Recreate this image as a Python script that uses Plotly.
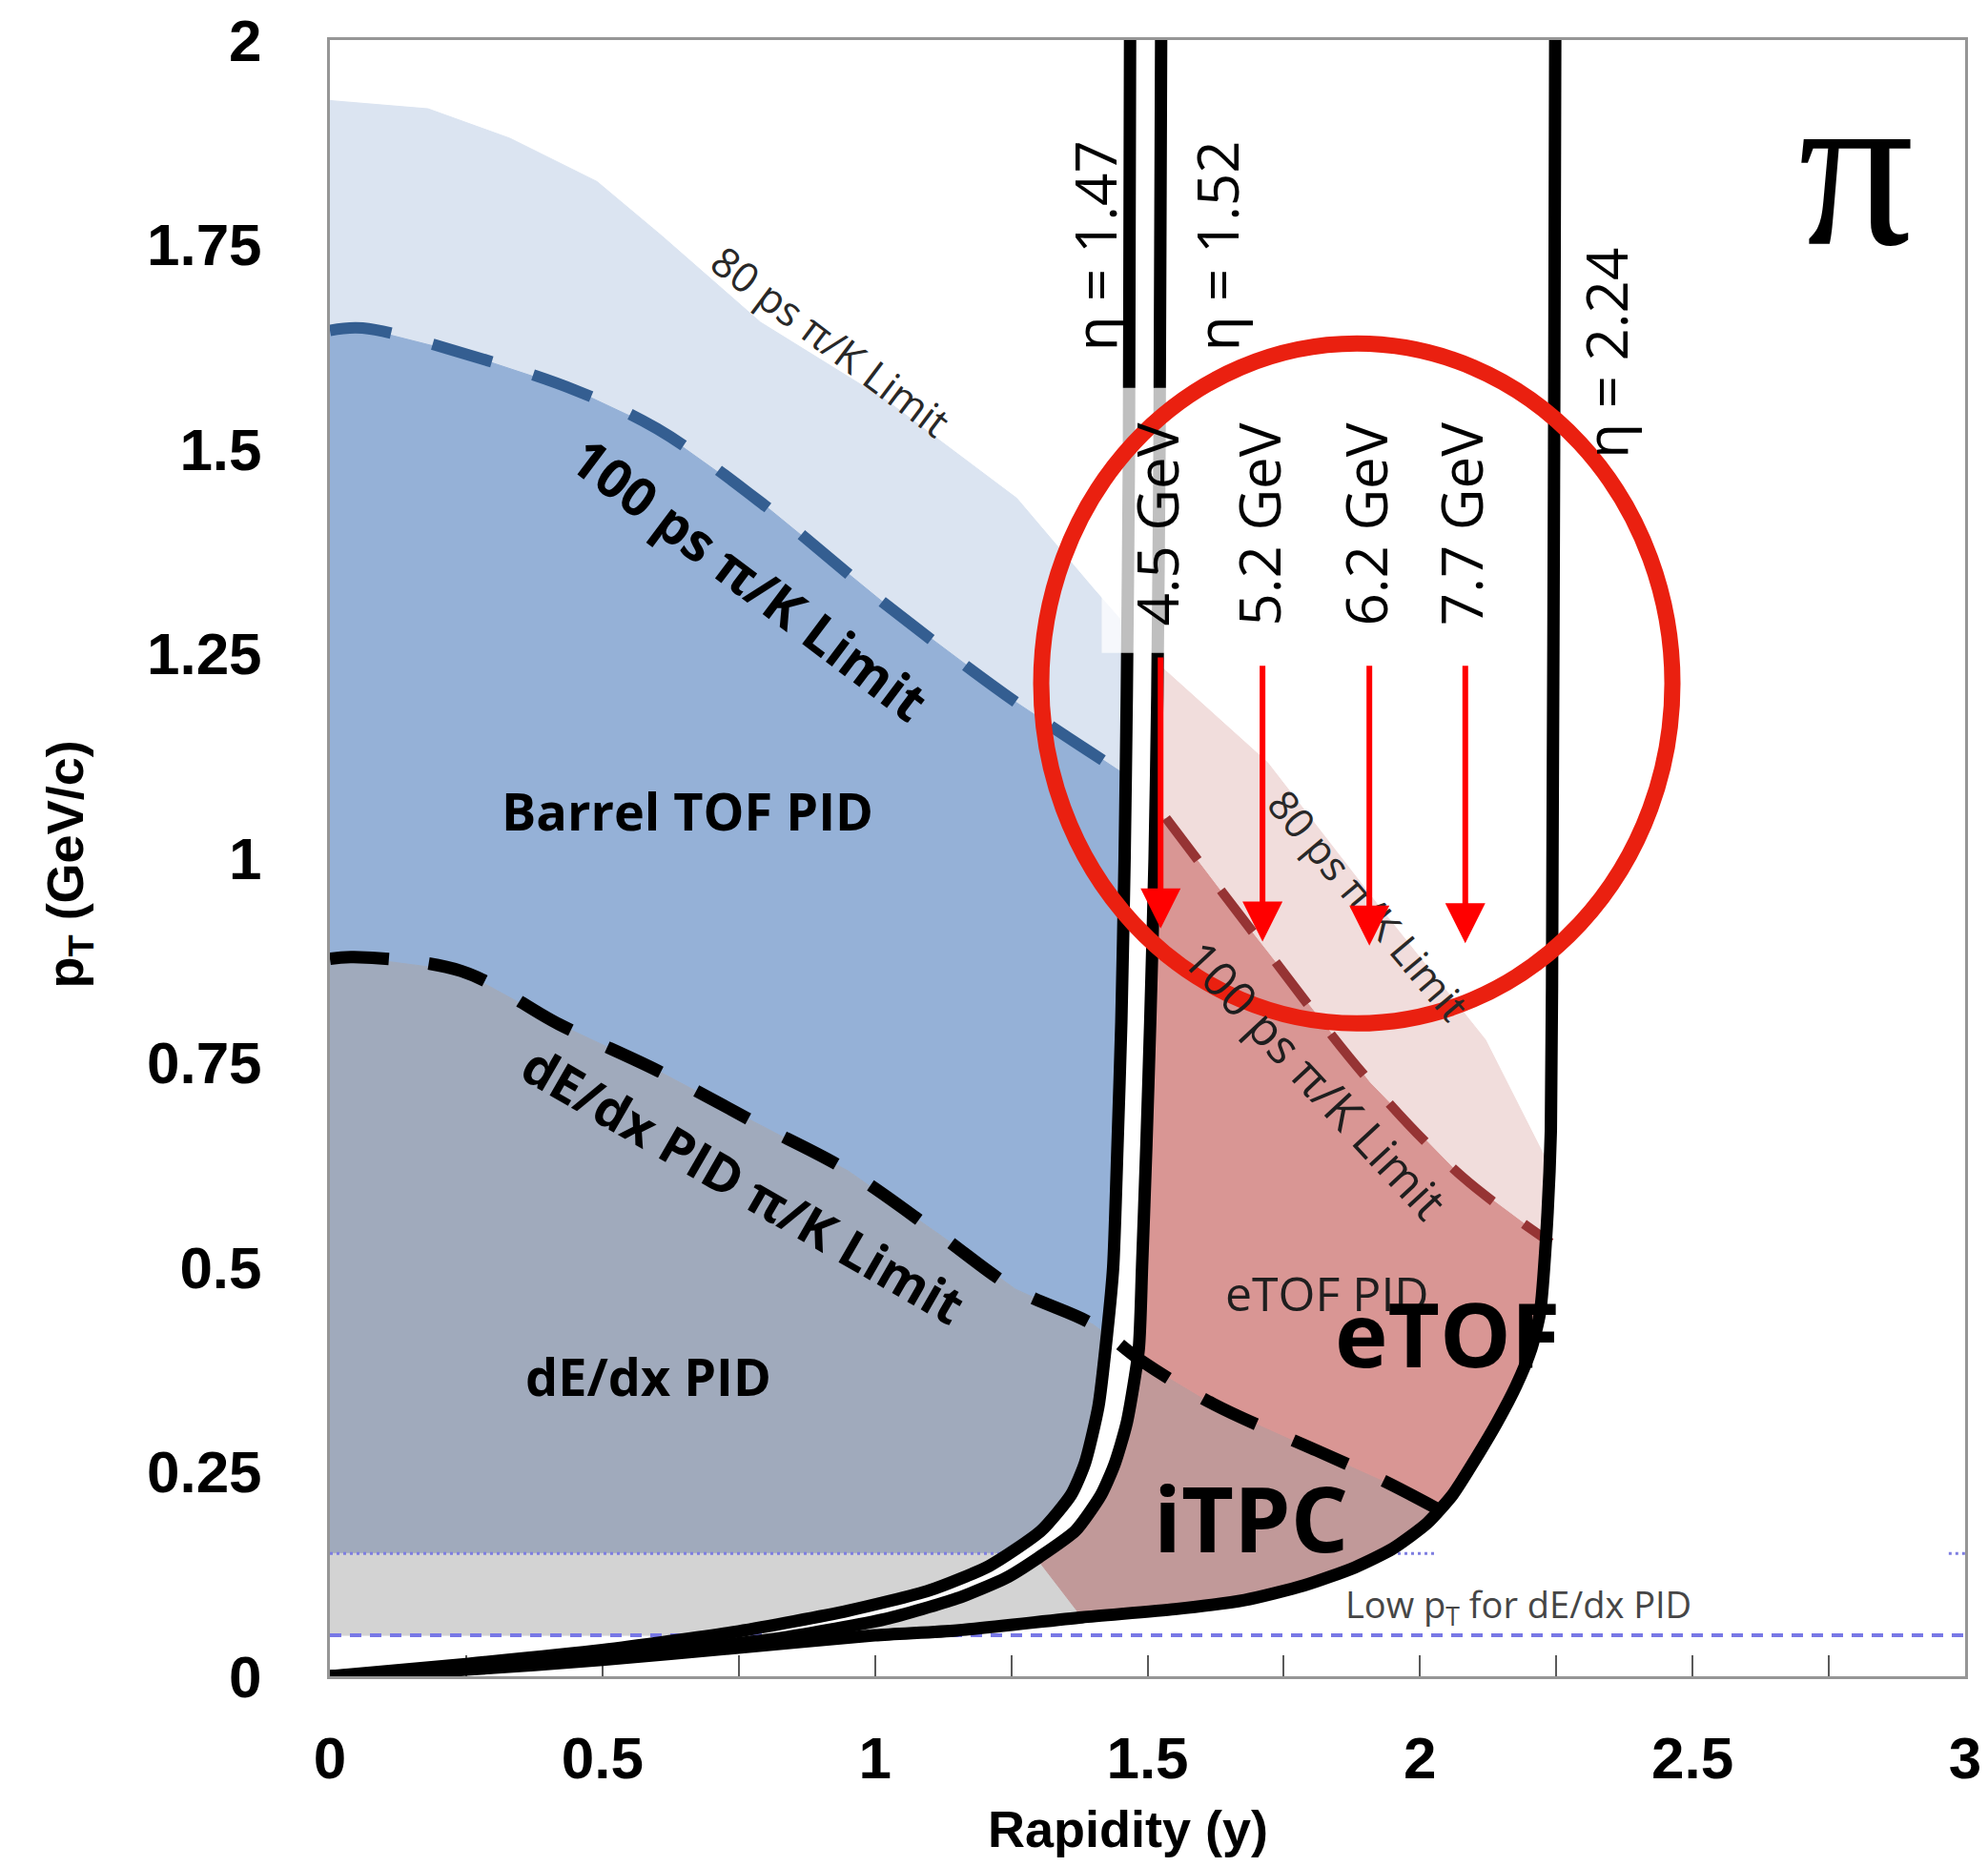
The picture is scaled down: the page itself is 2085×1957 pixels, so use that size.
import numpy as np
import plotly.graph_objects as go

# ---------------- data (x = rapidity y, y = pT in GeV/c) ----------------
# 80 ps pi/K limit (upper edge of light blue / light red areas)
tof80_y = [0.00, 0.18, 0.33, 0.49, 0.61, 0.79, 1.02, 1.26, 1.40, 1.53, 1.72, 1.92, 2.12, 2.24]
tof80_pt = [1.926, 1.916, 1.88, 1.827, 1.76, 1.655, 1.56, 1.44, 1.33, 1.231, 1.117, 0.945, 0.778, 0.62]

# 100 ps pi/K limit, barrel TOF part (blue dashed)
tof100b_y = [0.00, 0.06, 0.25, 0.45, 0.60, 0.80, 1.02, 1.26, 1.45]
tof100b_pt = [1.645, 1.648, 1.616, 1.572, 1.525, 1.43, 1.31, 1.19, 1.106]

# 100 ps pi/K limit, eTOF part (red dashed)
tof100e_y = [1.534, 1.695, 1.909, 2.077, 2.24]
tof100e_pt = [1.049, 0.908, 0.726, 0.611, 0.53]

# dE/dx PID pi/K limit (black dashed)
dedx_y = [0.00, 0.044, 0.241, 0.42, 0.602, 0.777, 0.95, 1.116, 1.258, 1.40, 1.49, 1.62, 1.81, 1.93, 2.045]
dedx_pt = [0.877, 0.879, 0.862, 0.797, 0.74, 0.678, 0.618, 0.541, 0.473, 0.43, 0.385, 0.333, 0.276, 0.24, 0.20]

# pseudorapidity acceptance edges
eta147_y = [1.468, 1.466, 1.462, 1.458, 1.452, 1.445, 1.437, 1.426, 1.41, 1.385, 1.36, 1.305, 1.21, 1.10, 0.95, 0.75, 0.5, 0.25, 0.0]
eta147_pt = [2.0, 1.5, 1.2, 1.0, 0.8, 0.65, 0.5, 0.42, 0.33, 0.26, 0.222, 0.178, 0.135, 0.105, 0.08, 0.055, 0.032, 0.015, 0.0]

eta152_y = [1.525, 1.522, 1.518, 1.513, 1.505, 1.498, 1.49, 1.484, 1.462, 1.44, 1.415, 1.368, 1.30, 1.24, 1.15, 1.02, 0.83, 0.58, 0.3, 0.0]
eta152_pt = [2.0, 1.5, 1.2, 1.0, 0.8, 0.65, 0.5, 0.4, 0.31, 0.26, 0.222, 0.178, 0.145, 0.12, 0.095, 0.07, 0.047, 0.028, 0.011, 0.0]

eta224_y = [2.248, 2.246, 2.243, 2.24, 2.231, 2.22, 2.204, 2.177, 2.142, 2.103, 2.06, 2.013, 1.95, 1.88, 1.787,
            1.678, 1.55, 1.38, 1.15, 1.0, 0.75, 0.5, 0.25, 0.0]
eta224_pt = [2.0, 1.5, 1.0, 0.667, 0.533, 0.444, 0.4, 0.356, 0.311, 0.267, 0.222, 0.187, 0.156, 0.133, 0.111,
             0.093, 0.082, 0.072, 0.056, 0.05, 0.035, 0.02, 0.008, 0.0]

# low-pT dE/dx PID bounds
lowpt_upper = 0.15
lowpt_lower = 0.05
itpc_edge_y = [1.29, 1.38]   # edge between grey low-pT area and iTPC area

# beam-energy arrows
arrow_labels = ["4.5 GeV", "5.2 GeV", "6.2 GeV", "7.7 GeV"]
arrow_y = [1.524, 1.711, 1.907, 2.083]
arrow_top = [1.247, 1.237, 1.237, 1.237]
arrow_tip = [0.914, 0.898, 0.893, 0.896]

eta_labels = ["η = 1.47", "η = 1.52", "η = 2.24"]

x_tickvals = [0, 0.5, 1, 1.5, 2, 2.5, 3]
x_ticktext = ["0", "0.5", "1", "1.5", "2", "2.5", "3"]
y_tickvals = [0, 0.25, 0.5, 0.75, 1, 1.25, 1.5, 1.75, 2]
y_ticktext = ["0", "0.25", "0.5", "0.75", "1", "1.25", "1.5", "1.75", "2"]

# ---------------- helpers ----------------
def A(v):
    return np.asarray(v, dtype=float)

def eta_x(ex, ep, pt):
    return float(np.interp(pt, A(ep)[::-1], A(ex)[::-1]))

def eta_pt_at_x(ex, ep, x):
    return float(np.interp(x, A(ex)[::-1], A(ep)[::-1]))

def cseg(cx, cp, x0, x1):
    cx, cp = A(cx), A(cp)
    m = (cx > x0) & (cx < x1)
    xs = [x0] + list(cx[m]) + [x1]
    ps = [float(np.interp(x0, cx, cp))] + list(cp[m]) + [float(np.interp(x1, cx, cp))]
    return xs, ps

def eseg(ex, ep, p_hi, p_lo):
    ex, ep = A(ex), A(ep)
    m = (ep < p_hi) & (ep > p_lo)
    xs = [eta_x(ex, ep, p_hi)] + list(ex[m]) + [eta_x(ex, ep, p_lo)]
    ps = [p_hi] + list(ep[m]) + [p_lo]
    return xs, ps

def rev(seg):
    return seg[0][::-1], seg[1][::-1]

def cross(cx, cp, ex, ep):
    pts = np.linspace(0.005, 1.99, 6000)
    xs = np.interp(pts, A(ep)[::-1], A(ex)[::-1])
    d = np.interp(xs, A(cx), A(cp)) - pts
    i = np.nonzero(np.diff(np.sign(d)))[0][0]
    return float(pts[i])

def join(*segs):
    xs, ps = [], []
    for s in segs:
        xs += list(s[0]); ps += list(s[1])
    return xs, ps

# crossing points
p_a = cross(tof80_y, tof80_pt, eta147_y, eta147_pt)
p_b = cross(tof100b_y, tof100b_pt, eta147_y, eta147_pt)
p_d = cross(dedx_y, dedx_pt, eta147_y, eta147_pt)
p_e = cross(dedx_y, dedx_pt, eta152_y, eta152_pt)
p_f = cross(dedx_y, dedx_pt, eta224_y, eta224_pt)
p_r = cross(tof100e_y, tof100e_pt, eta152_y, eta152_pt)
p_g = cross(tof100e_y, tof100e_pt, eta224_y, eta224_pt)
p_h = cross(tof80_y, tof80_pt, eta152_y, eta152_pt)
p_i = cross(tof80_y, tof80_pt, eta224_y, eta224_pt)
x_a = eta_x(eta147_y, eta147_pt, p_a)
x_b = eta_x(eta147_y, eta147_pt, p_b)
x_d = eta_x(eta147_y, eta147_pt, p_d)
x_e = eta_x(eta152_y, eta152_pt, p_e)
x_f = eta_x(eta224_y, eta224_pt, p_f)
x_r = eta_x(eta152_y, eta152_pt, p_r)
x_g = eta_x(eta224_y, eta224_pt, p_g)
x_h = eta_x(eta152_y, eta152_pt, p_h)
x_i = eta_x(eta224_y, eta224_pt, p_i)
p_edge = eta_pt_at_x(eta224_y, eta224_pt, itpc_edge_y[1])

regions = []
# light blue (80 ps, barrel)
regions.append(("rgb(219,228,241)", join(cseg(tof80_y, tof80_pt, 0, x_a),
                                          eseg(eta147_y, eta147_pt, p_a, p_b),
                                          rev(cseg(tof100b_y, tof100b_pt, 0, x_b)))))
# barrel TOF PID
regions.append(("rgb(149,177,215)", join(cseg(tof100b_y, tof100b_pt, 0, x_b),
                                          eseg(eta147_y, eta147_pt, p_b, p_d),
                                          rev(cseg(dedx_y, dedx_pt, 0, x_d)))))
# dE/dx PID
regions.append(("rgb(160,170,188)", join(cseg(dedx_y, dedx_pt, 0, x_d),
                                          eseg(eta147_y, eta147_pt, p_d, lowpt_upper),
                                          ([0], [lowpt_upper]))))
# grey low-pT
regions.append(("rgb(211,211,211)", join(([0, itpc_edge_y[0], itpc_edge_y[1]], [lowpt_upper, lowpt_upper, p_edge]),
                                          eseg(eta224_y, eta224_pt, p_edge, lowpt_lower),
                                          ([0], [lowpt_lower]))))
regions2 = []
# iTPC
regions2.append(("rgb(193,153,153)", join(eseg(eta152_y, eta152_pt, p_e, lowpt_upper),
                                           ([itpc_edge_y[0], itpc_edge_y[1]], [lowpt_upper, p_edge]),
                                           rev(eseg(eta224_y, eta224_pt, p_f, p_edge)),
                                           rev(cseg(dedx_y, dedx_pt, x_e, x_f)))))
# eTOF PID
regions2.append(("rgb(217,150,148)", join(eseg(eta152_y, eta152_pt, p_r, p_e),
                                           cseg(dedx_y, dedx_pt, x_e, x_f),
                                           rev(eseg(eta224_y, eta224_pt, p_g, p_f)),
                                           rev(cseg(tof100e_y, tof100e_pt, x_r, x_g)))))
# light red (80 ps, eTOF)
regions2.append(("rgb(241,221,220)", join(eseg(eta152_y, eta152_pt, p_h, p_r),
                                           cseg(tof100e_y, tof100e_pt, x_r, x_g),
                                           rev(eseg(eta224_y, eta224_pt, p_i, p_g)),
                                           rev(cseg(tof80_y, tof80_pt, x_h, x_i)))))

fig = go.Figure()

def add_region(col, xy):
    fig.add_trace(go.Scatter(x=xy[0], y=xy[1], mode="lines", fill="toself", fillcolor=col,
                             line=dict(width=1, color=col), hoverinfo="skip", showlegend=False))

for col, xy in regions:
    add_region(col, xy)

# dotted upper low-pT line
fig.add_trace(go.Scatter(x=[0, 2.03, None, 2.97, 3.0], y=[lowpt_upper] * 2 + [None] + [lowpt_upper] * 2,
                         mode="lines", line=dict(color="rgb(125,125,225)", width=3, dash="3px,4px"),
                         hoverinfo="skip", showlegend=False))

for col, xy in regions2:
    add_region(col, xy)

# white gap between eta=1.47 and eta=1.52 edges
add_region("white", (list(eta147_y) + list(eta152_y)[::-1], list(eta147_pt) + list(eta152_pt)[::-1]))

# dashed lower low-pT line
fig.add_trace(go.Scatter(x=[0, 3], y=[lowpt_lower] * 2, mode="lines",
                         line=dict(color="rgb(120,120,230)", width=4, dash="12px,9px"),
                         hoverinfo="skip", showlegend=False))

# limit curves
fig.add_trace(go.Scatter(x=tof100b_y, y=tof100b_pt, mode="lines",
                         line=dict(color="rgb(52,94,145)", width=12, dash="65px,45px", shape="spline"),
                         hoverinfo="skip", showlegend=False))
fig.add_trace(go.Scatter(x=tof100e_y, y=tof100e_pt, mode="lines",
                         line=dict(color="rgb(150,52,52)", width=10, dash="55px,40px", shape="spline"),
                         hoverinfo="skip", showlegend=False))
fig.add_trace(go.Scatter(x=dedx_y, y=dedx_pt, mode="lines",
                         line=dict(color="black", width=13, dash="62px,42px", shape="spline"),
                         hoverinfo="skip", showlegend=False))

for ex, ep in [(eta147_y, eta147_pt), (eta152_y, eta152_pt), (eta224_y, eta224_pt)]:
    fig.add_trace(go.Scatter(x=ex, y=ep, mode="lines",
                             line=dict(color="black", width=13, shape="spline", smoothing=0.6),
                             hoverinfo="skip", showlegend=False))

# ---------------- annotations ----------------
FONT = "Open Sans"
ann = []

def txt(x, y, s, size, bold=False, angle=0, color="black", family=FONT):
    ann.append(dict(x=x, y=y, xref="x", yref="y", text=s, showarrow=False, textangle=angle,
                    font=dict(family=family, size=size, color=color, weight="bold" if bold else "normal"),
                    xanchor="center", yanchor="middle"))

txt(0.656, 1.058, "Barrel TOF PID", 54, bold=True)
txt(0.585, 0.367, "dE/dx PID", 54, bold=True)
txt(0.759, 0.601, "dE/dx PID π/K Limit", 54, bold=True, angle=30)
txt(0.772, 1.342, "100 ps π/K Limit", 56, bold=True, angle=37)
txt(0.919, 1.632, "80 ps π/K Limit", 43, angle=37, color="rgb(40,40,40)")
txt(1.905, 0.943, "80 ps π/K Limit", 43, angle=50, color="rgb(40,40,40)")
txt(1.808, 0.73, "100 ps π/K Limit", 50, angle=47, color="rgb(30,30,30)")
txt(1.83, 0.468, "eTOF PID", 50, color="rgb(30,30,30)")
txt(2.051, 0.42, "eTOF", 94, bold=True)
txt(1.689, 0.195, "iTPC", 95, bold=True)
txt(2.18, 0.086, "Low p<sub>T</sub> for dE/dx PID", 38, color="rgb(70,70,70)")
txt(2.80, 1.845, "π", 240, family="Liberation Serif")

eta_lab_x = [1.403, 1.627, 2.339]
eta_lab_y = [1.748, 1.748, 1.617]
for lx, ly, s in zip(eta_lab_x, eta_lab_y, eta_labels):
    txt(lx, ly, s, 60, angle=-90)

for ax_, top, tip, lab in zip(arrow_y, arrow_top, arrow_tip, arrow_labels):
    txt(ax_ - 0.008, 1.408, lab, 60, angle=-90)
    ann.append(dict(x=ax_, y=tip, ax=ax_, ay=top, xref="x", yref="y", axref="x", ayref="y",
                    text="", showarrow=True, arrowhead=2, arrowsize=1.4, arrowwidth=6,
                    arrowcolor="rgb(255,0,0)", standoff=0, startstandoff=0))

# axis titles
ann.append(dict(x=0.488, y=-0.093, xref="paper", yref="paper", text="Rapidity (y)", showarrow=False,
                font=dict(family="Liberation Sans", size=54, color="black", weight="bold"),
                xanchor="center", yanchor="middle"))
ann.append(dict(x=-0.16, y=0.496, xref="paper", yref="paper", text="p<sub>T</sub> (GeV/c)", showarrow=False,
                textangle=-90, font=dict(family="Liberation Sans", size=54, color="black", weight="bold"),
                xanchor="center", yanchor="middle"))

shapes = [
    # translucent white box behind the 4.5 GeV label
    dict(type="rect", xref="x", yref="y", x0=1.416, x1=1.543, y0=1.251, y1=1.575,
         fillcolor="white", opacity=0.75, line=dict(width=0), layer="above"),
    # red highlight ellipse
    dict(type="circle", xref="x", yref="y", x0=1.305, x1=2.463, y0=0.798, y1=1.629,
         line=dict(color="rgb(234,32,16)", width=17), layer="above"),
]

fig.update_layout(
    width=2069, height=1941,
    margin=dict(l=338, r=16, t=34, b=191, autoexpand=False),
    paper_bgcolor="white", plot_bgcolor="white",
    showlegend=False,
    annotations=ann, shapes=shapes,
    xaxis=dict(range=[0, 3], tickvals=x_tickvals, ticktext=x_ticktext, showgrid=False, zeroline=False,
               ticks="inside", ticklen=22, tickwidth=2, tickcolor="rgb(90,90,90)",
               minor=dict(dtick=0.25, tick0=0, ticks="inside", ticklen=22, tickwidth=2, tickcolor="rgb(90,90,90)"),
               showline=True, mirror=True, linecolor="rgb(150,150,150)", linewidth=3,
               tickfont=dict(family="Liberation Sans", size=62, color="black", weight="bold"),
               ticklabelstandoff=30, ticklabeloverflow="allow", automargin=False, layer="below traces"),
    yaxis=dict(range=[0, 2], tickvals=y_tickvals, ticktext=y_ticktext, showgrid=False, zeroline=False,
               ticks="", showline=True, mirror=True, linecolor="rgb(150,150,150)", linewidth=3,
               tickfont=dict(family="Liberation Sans", size=62, color="black", weight="bold"),
               ticklabelstandoff=56, ticklabeloverflow="allow", automargin=False, layer="below traces"),
)

fig.write_html("out.html")
